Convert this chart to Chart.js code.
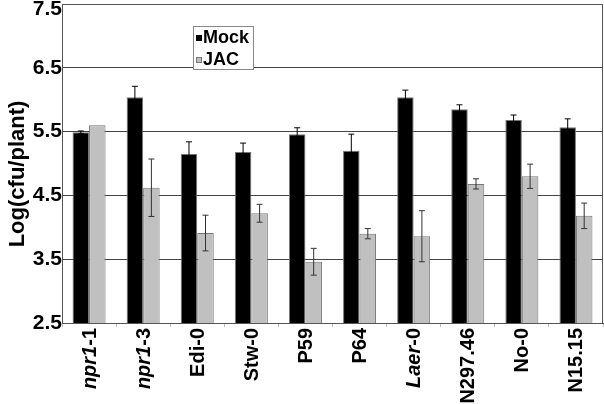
<!DOCTYPE html>
<html>
<head>
<meta charset="utf-8">
<script src="https://cdn.jsdelivr.net/npm/chart.js@4.4.0/dist/chart.umd.min.js"></script>
<style>
  body { margin: 0; background: #fff; }
  #wrap { width: 604px; height: 404px; }
</style>
</head>
<body>
<div id="wrap"><canvas id="myChart"></canvas></div>
<script>
// data
let categories = ['npr1-1', 'npr1-3', 'Edi-0', 'Stw-0', 'P59', 'P64', 'Laer-0', 'N297.46', 'No-0', 'N15.15'];
let italicPart = ['npr1', 'npr1', '', '', '', '', 'Laer', '', '', ''];
let mockValues = [5.49, 6.04, 5.15, 5.18, 5.46, 5.20, 6.04, 5.85, 5.68, 5.57];
let mockErrors = [0.02, 0.17, 0.19, 0.14, 0.10, 0.26, 0.11, 0.07, 0.08, 0.13];
let jacValues = [5.60, 4.62, 3.91, 4.22, 3.46, 3.90, 3.86, 4.68, 4.80, 4.18];
let jacErrors = [0, 0.45, 0.28, 0.14, 0.21, 0.08, 0.40, 0.08, 0.19, 0.20];
let yTicks = [2.5, 3.5, 4.5, 5.5, 6.5, 7.5];

const FONT = '"Liberation Sans", Arial, sans-serif';

// error bars on top of each bar
let errorBars = {
    id: 'errorBars',
    afterDatasetsDraw(chart) {
        let ctx = chart.ctx;
        let y = chart.scales.y;
        chart.data.datasets.forEach((ds, di) => {
            let meta = chart.getDatasetMeta(di);
            meta.data.forEach((bar, i) => {
                let err = ds.errors[i];
                if (!err) return;
                let v = ds.data[i];
                let top = y.getPixelForValue(v + err);
                let bot = y.getPixelForValue(v - err);
                ctx.save();
                ctx.strokeStyle = ds.errorColor;
                ctx.lineWidth = 1;
                ctx.beginPath();
                ctx.moveTo(bar.x, top);
                ctx.lineTo(bar.x, bot);
                ctx.moveTo(bar.x - 3, top);
                ctx.lineTo(bar.x + 3, top);
                ctx.moveTo(bar.x - 3, bot);
                ctx.lineTo(bar.x + 3, bot);
                ctx.stroke();
                ctx.restore();
            });
        });
    }
};

// frame, axis title, rotated category labels and the boxed legend
let decorations = {
    id: 'decorations',
    beforeDatasetsDraw(chart) {
        let a = chart.chartArea;
        let ctx = chart.ctx;
        ctx.save();
        ctx.strokeStyle = '#555';
        ctx.lineWidth = 1;
        ctx.strokeRect(Math.round(a.left) + 0.5, Math.round(a.top) + 0.5,
            Math.round(a.right - a.left) - 1, Math.round(a.bottom - a.top));
        ctx.restore();
    },
    afterDraw(chart) {
        let ctx = chart.ctx;
        let a = chart.chartArea;
        let x = chart.scales.x;
        let y = chart.scales.y;
        ctx.save();
        ctx.fillStyle = '#000';

        // top tick label sits a little lower so it is not cut off
        ctx.font = 'bold 21px ' + FONT;
        ctx.textAlign = 'right';
        ctx.textBaseline = 'middle';
        ctx.fillText(yTicks[yTicks.length - 1].toFixed(1), a.left, y.getPixelForValue(7.5) + 5);

        // y axis title
        ctx.save();
        ctx.translate(18, 174);
        ctx.rotate(-Math.PI / 2);
        ctx.textAlign = 'center';
        ctx.font = 'bold 22px ' + FONT;
        ctx.fillText('Log(cfu/plant)', 0, 0);
        ctx.restore();

        categories.forEach((label, i) => {
            let px = x.getPixelForTick(i);
            let it = italicPart[i];
            let rest = label.slice(it.length);
            let fIt = 'italic bold 20px ' + FONT;
            let fN = 'bold 20px ' + FONT;
            ctx.font = fIt;
            let wIt = it ? ctx.measureText(it).width : 0;
            ctx.font = fN;
            let wN = ctx.measureText(rest).width;
            ctx.save();
            ctx.translate(px + 1, a.bottom + 5);
            ctx.rotate(-Math.PI / 2);
            ctx.textAlign = 'left';
            let start = -(wIt + wN);
            if (it) {
                ctx.font = fIt;
                ctx.fillText(it, start, 0);
            }
            ctx.font = fN;
            ctx.fillText(rest, start + wIt, 0);
            ctx.restore();
        });

        // legend box
        ctx.fillStyle = '#fff';
        ctx.fillRect(193, 26, 60, 43);
        ctx.strokeStyle = '#888';
        ctx.strokeRect(193.5, 26.5, 60, 43);
        ctx.font = 'bold 18px ' + FONT;
        ctx.textAlign = 'left';
        ctx.textBaseline = 'alphabetic';
        ctx.fillStyle = '#000';
        ctx.fillRect(196, 35, 6, 6);
        ctx.fillText('Mock', 203, 43);
        ctx.fillStyle = '#c0c0c0';
        ctx.fillRect(196, 57, 6, 6);
        ctx.strokeStyle = '#777';
        ctx.strokeRect(196.5, 57.5, 5, 5);
        ctx.fillStyle = '#000';
        ctx.fillText('JAC', 203, 65);
        ctx.restore();
    }
};

let myChart = document.getElementById('myChart').getContext('2d');
let chart = new Chart(myChart, {
    type: 'bar',
    data: {
        labels: categories,
        datasets: [{
            label: 'Mock',
            data: mockValues,
            errors: mockErrors,
            errorColor: '#000',
            backgroundColor: '#000',
            borderColor: '#777',
            borderWidth: 1,
            categoryPercentage: 0.61,
            barPercentage: 1
        }, {
            label: 'JAC',
            data: jacValues,
            errors: jacErrors,
            errorColor: '#333',
            backgroundColor: '#c0c0c0',
            borderColor: '#777',
            borderWidth: 1,
            categoryPercentage: 0.61,
            barPercentage: 1
        }]
    },
    options: {
        responsive: true,
        maintainAspectRatio: false,
        animation: false,
        layout: { padding: { top: 4, right: 1, left: 0, bottom: 0 } },
        plugins: {
            legend: { display: false },
            tooltip: { enabled: false }
        },
        scales: {
            x: {
                ticks: { display: false },
                grid: { offset: true, drawOnChartArea: false, tickLength: 4, color: '#bbb' },
                border: { color: '#555' },
                afterFit(scale) { scale.height = 81; }
            },
            y: {
                min: 2.5,
                max: 7.5,
                afterBuildTicks(scale) { scale.ticks = yTicks.map(v => ({ value: v })); },
                ticks: {
                    color: '#000',
                    padding: 0,
                    font: { family: FONT, size: 21, weight: 'bold' },
                    callback: v => (v === 7.5 ? '' : v.toFixed(1))
                },
                grid: { color: '#444', drawTicks: false },
                border: { color: '#555' },
                afterFit(scale) {
                    scale.width = 62;
                    scale.paddingTop = 0;
                    scale.paddingBottom = 0;
                }
            }
        }
    },
    plugins: [errorBars, decorations]
});
</script>
</body>
</html>
